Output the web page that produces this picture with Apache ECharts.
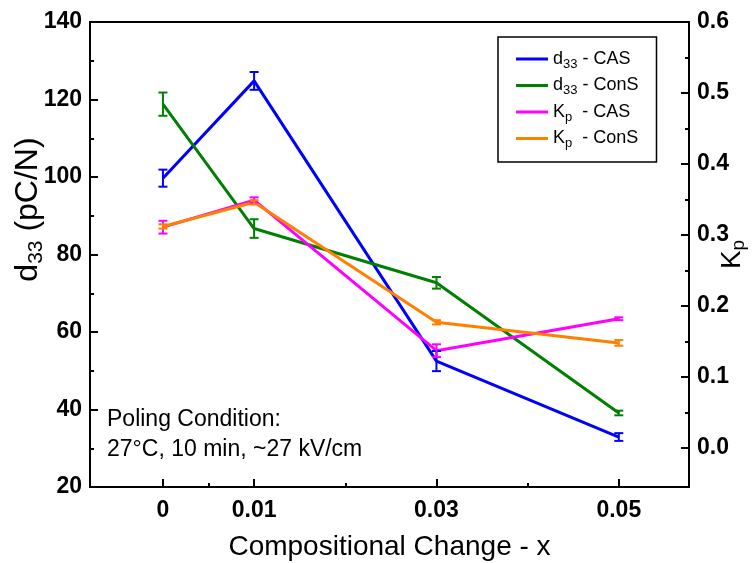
<!DOCTYPE html>
<html><head><meta charset="utf-8">
<script src="https://cdn.jsdelivr.net/npm/echarts@6/dist/echarts.min.js"></script>
<style>html,body{margin:0;padding:0;background:#fff}#c{width:753px;height:563px}</style>
</head><body><div id="c"></div>
<script>
// ---- data ----
const xValues = [0, 0.01, 0.03, 0.05];
const xTickLabels = [0, 0.01, 0.03, 0.05];
const xMinorTicks = [0.005, 0.02, 0.04];
const d33CAS = [99.7, 124.8, 52.5, 32.9];
const d33CASErr = [2.2, 2.3, 2.6, 1.0];
const d33ConS = [118.8, 86.7, 72.7, 39.1];
const d33ConSErr = [3.0, 2.4, 1.5, 0.6];
const kpCAS = [0.311, 0.349, 0.137, 0.182];
const kpCASErr = [0.009, 0.004, 0.009, 0.002];
const kpConS = [0.312, 0.346, 0.177, 0.148];
const kpConSErr = [0.003, 0.003, 0.003, 0.004];
const leftTicks = [20, 40, 60, 80, 100, 120, 140];
const rightTicks = [0, 0.1, 0.2, 0.3, 0.4, 0.5, 0.6];
const rightMinorTicks = [0.05, 0.15, 0.25, 0.35, 0.45, 0.55];

const FONT = '"Liberation Sans", Arial, Helvetica, sans-serif';
const chart = echarts.init(document.getElementById('c'), null, {renderer: 'canvas'});

function pairs(vals) { return xValues.map((x, i) => [x, vals[i]]); }
function errData(vals, errs) { return xValues.map((x, i) => [x, vals[i] - errs[i], vals[i] + errs[i]]); }
function errSeries(name, vals, errs, color, yIdx) {
  return {
    type: 'custom', name: name, yAxisIndex: yIdx, xAxisIndex: 0, silent: true,
    data: errData(vals, errs), z: 3,
    renderItem: function (params, api) {
      const x = api.value(0);
      const p1 = api.coord([x, api.value(2)]);
      const p2 = api.coord([x, api.value(1)]);
      const w = 4.5;
      const st = {stroke: color, lineWidth: 2};
      return {type: 'group', children: [
        {type: 'line', shape: {x1: p1[0], y1: p1[1], x2: p2[0], y2: p2[1]}, style: st},
        {type: 'line', shape: {x1: p1[0] - w, y1: p1[1], x2: p1[0] + w, y2: p1[1]}, style: st},
        {type: 'line', shape: {x1: p2[0] - w, y1: p2[1], x2: p2[0] + w, y2: p2[1]}, style: st}
      ]};
    }
  };
}
function lineSeries(name, vals, color, yIdx) {
  return {type: 'line', name: name, yAxisIndex: yIdx, data: pairs(vals), symbol: 'none',
    lineStyle: {color: color, width: 3}, itemStyle: {color: color}, z: 2};
}
const C = {blue: '#0000ff', green: '#008000', mag: '#ff00ff', orange: '#ff8000'};
const legendMap = {
  'd33 - CAS': '{n|d}{s|33}{n| - CAS}',
  'd33 - ConS': '{n|d}{s|33}{n| - ConS}',
  'Kp - CAS': '{n|K}{s|p}{n|  - CAS}',
  'Kp - ConS': '{n|K}{s|p}{n|  - ConS}'
};
const tickLbl = {color: '#000', fontFamily: FONT, fontWeight: 'bold', fontSize: 23};
const lineAx = {show: true, onZero: false, lineStyle: {color: '#000', width: 2}};

chart.setOption({
  animation: false,
  textStyle: {fontFamily: FONT},
  grid: {left: 90, right: 64, top: 22, bottom: 76, show: true, borderColor: '#000', borderWidth: 2,
         containLabel: false, outerBoundsMode: 'none'},
  legend: {
    left: 498, top: 37, orient: 'vertical', padding: [13, 18, 12, 18], itemGap: 6,
    itemWidth: 32, itemHeight: 3, icon: 'rect',
    borderColor: '#000', borderWidth: 1.5, borderRadius: 0,
    data: ['d33 - CAS', 'd33 - ConS', 'Kp - CAS', 'Kp - ConS'],
    formatter: n => legendMap[n],
    textStyle: {color: '#000', fontFamily: FONT, rich: {
      n: {fontSize: 18, fontFamily: FONT, color: '#000', lineHeight: 21},
      s: {fontSize: 13, fontFamily: FONT, color: '#000', padding: [10, 0, 0, 0]}
    }}
  },
  xAxis: [{
    type: 'value', min: -0.008, max: 0.0577, position: 'bottom',
    name: 'Compositional Change - x', nameLocation: 'middle', nameGap: 46, nameMoveOverlap: false,
    nameTextStyle: {fontSize: 28, color: '#000', fontFamily: FONT},
    axisLine: lineAx,
    axisTick: {show: true, inside: true, length: 8, lineStyle: {color: '#000', width: 2}, customValues: xTickLabels},
    axisLabel: Object.assign({margin: 12, customValues: xTickLabels, formatter: v => String(v)}, tickLbl),
    splitLine: {show: false}
  }, {
    type: 'value', min: -0.008, max: 0.0577, position: 'bottom',
    axisLine: {show: false, onZero: false}, axisLabel: {show: false}, splitLine: {show: false},
    axisTick: {show: true, inside: true, length: 4, lineStyle: {color: '#000', width: 2}, customValues: xMinorTicks}
  }],
  yAxis: [{
    type: 'value', min: 20, max: 140, interval: 20, position: 'left',
    name: '{a|d}{b|33}{a| (pC/N)}', nameLocation: 'middle', nameGap: 43, nameRotate: 90, nameMoveOverlap: false,
    nameTextStyle: {color: '#000', padding: [0, 0, 0, 90], rich: {
      a: {fontSize: 32, fontFamily: FONT, color: '#000'},
      b: {fontSize: 21, fontFamily: FONT, color: '#000', padding: [16, 0, 0, 0]}
    }},
    axisLine: lineAx,
    axisTick: {show: true, inside: true, length: 8, lineStyle: {color: '#000', width: 2}},
    minorTick: {show: true, splitNumber: 2, length: 4, lineStyle: {color: '#000', width: 2}},
    axisLabel: Object.assign({margin: 8}, tickLbl),
    splitLine: {show: false}, minorSplitLine: {show: false}
  }, {
    type: 'value', min: -0.055, max: 0.6, position: 'right',
    name: '{a|K}{b|p}', nameLocation: 'middle', nameGap: 28, nameRotate: 90, nameMoveOverlap: false,
    nameTextStyle: {color: '#000', rich: {
      a: {fontSize: 28, fontFamily: FONT, color: '#000'},
      b: {fontSize: 19, fontFamily: FONT, color: '#000', padding: [12, 0, 0, 0]}
    }},
    axisLine: lineAx,
    axisTick: {show: true, inside: true, length: 8, lineStyle: {color: '#000', width: 2}, customValues: rightTicks},
    axisLabel: Object.assign({margin: 8, customValues: rightTicks, formatter: v => v.toFixed(1)}, tickLbl),
    splitLine: {show: false}
  }, {
    type: 'value', min: -0.055, max: 0.6, position: 'right',
    axisLine: {show: false, onZero: false}, axisLabel: {show: false}, splitLine: {show: false},
    axisTick: {show: true, inside: true, length: 4, lineStyle: {color: '#000', width: 2}, customValues: rightMinorTicks}
  }],
  graphic: [
    {type: 'text', left: 107, top: 408, style: {text: 'Poling Condition:', fontSize: 23, fontFamily: FONT, fill: '#000'}},
    {type: 'text', left: 107, top: 438, style: {text: '27°C, 10 min, ~27 kV/cm', fontSize: 23, fontFamily: FONT, fill: '#000'}}
  ],
  series: [
    lineSeries('d33 - CAS', d33CAS, C.blue, 0), errSeries('e1', d33CAS, d33CASErr, C.blue, 0),
    lineSeries('d33 - ConS', d33ConS, C.green, 0), errSeries('e2', d33ConS, d33ConSErr, C.green, 0),
    lineSeries('Kp - CAS', kpCAS, C.mag, 1), errSeries('e3', kpCAS, kpCASErr, C.mag, 1),
    lineSeries('Kp - ConS', kpConS, C.orange, 1), errSeries('e4', kpConS, kpConSErr, C.orange, 1)
  ]
});
</script></body></html>
